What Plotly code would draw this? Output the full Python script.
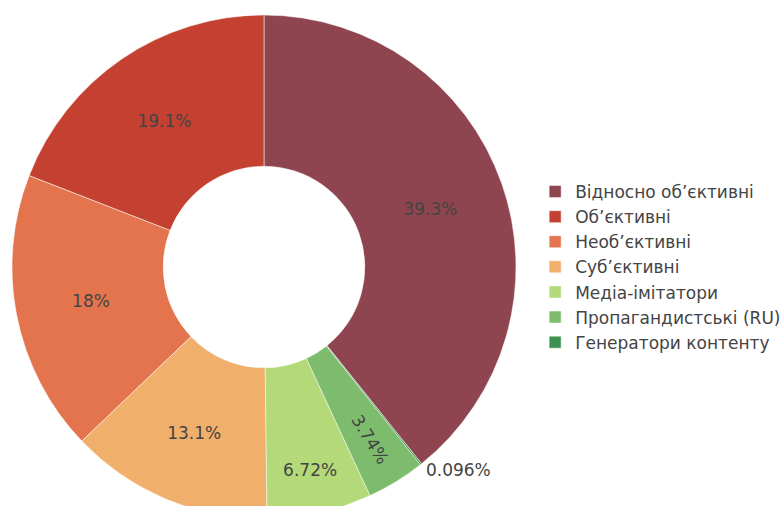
import plotly.graph_objects as go

labels = [
    "Відносно об\u02bcєктивні",
    "Об\u02bcєктивні",
    "Необ\u02bcєктивні",
    "Суб\u02bcєктивні",
    "Медіа-імітатори",
    "Пропагандистські (RU)",
    "Генератори контенту",
]
values = [409, 199, 188, 136, 70, 39, 1]
colors = ["#8E4550", "#C44132", "#E3744D", "#F0AF6B", "#B3D979", "#7CBC6C", "#3D9150"]

FONT = "Verdana, DejaVu Sans, sans-serif"

fig = go.Figure(
    go.Pie(
        labels=labels,
        values=values,
        hole=0.4,
        sort=False,
        direction="counterclockwise",
        rotation=0,
        textinfo="percent",
        textposition="auto",
        textfont=dict(family=FONT, size=17, color="#444"),
        marker=dict(colors=colors, line=dict(color="white", width=0.5)),
    )
)

W, H = 783, 540
l, t, side = 12, 15, 504
fig.update_layout(
    width=W,
    height=H,
    margin=dict(l=l, t=t, r=W - l - side, b=H - t - side, autoexpand=False),
    paper_bgcolor="white",
    plot_bgcolor="white",
    font=dict(family=FONT, size=17, color="#444"),
    showlegend=True,
    legend=dict(
        x=1.038,
        xanchor="left",
        y=0.5,
        yanchor="middle",
        font=dict(family=FONT, size=17, color="#444"),
        bgcolor="rgba(0,0,0,0)",
    ),
)

fig.write_html(
    "out.html",
    post_script="document.body.style.margin='0';document.body.style.overflow='hidden';document.documentElement.style.overflow='hidden';",
)
